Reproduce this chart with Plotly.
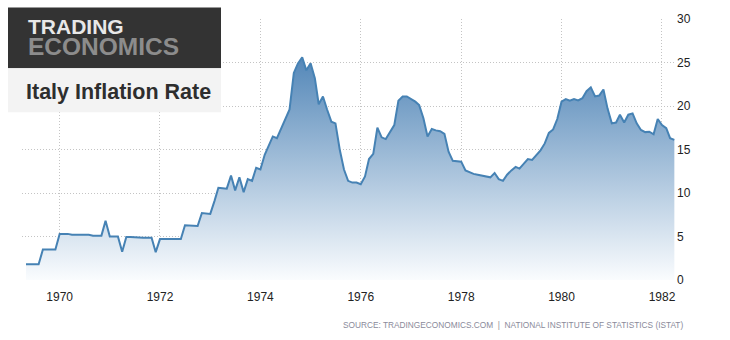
import pandas as pd
import plotly.graph_objects as go

# Italy consumer price inflation, % year on year, monthly from May 1969
start_month = "1969-05-01"
v1969 = [1.8, 1.8, 1.8, 1.8, 3.5, 3.5, 3.5, 3.5]
v1970 = [5.3, 5.3, 5.3, 5.2, 5.2, 5.2, 5.2, 5.2, 5.1, 5.1, 5.1, 6.8]
v1971 = [5.0, 5.0, 5.0, 3.25, 4.95, 4.95, 4.9, 4.9, 4.85, 4.85, 4.85, 3.2]
v1972 = [4.7, 4.7, 4.7, 4.7, 4.7, 4.7, 6.3, 6.25, 6.2, 6.2, 7.7, 7.65]
v1973 = [7.6, 9.1, 10.6, 10.55, 10.5, 12.0, 10.3, 11.8, 10.1, 11.6, 11.4, 12.9]
v1974 = [12.7, 14.4, 15.5, 16.5, 16.3, 17.4, 18.5, 19.6, 23.8, 24.9, 25.6, 24.1]
v1975 = [24.9, 23.2, 20.2, 21.1, 19.6, 18.2, 18.0, 15.0, 12.7, 11.4, 11.2, 11.2]
v1976 = [11.0, 11.9, 13.9, 14.5, 17.5, 16.4, 16.2, 17.0, 17.8, 20.6, 21.1, 21.1]
v1977 = [20.8, 20.5, 20.1, 18.6, 16.5, 17.35, 17.2, 17.1, 16.8, 14.75, 13.7, 13.65]
v1978 = [13.6, 12.6, 12.4, 12.2, 12.1, 12.0, 11.9, 11.8, 12.3, 11.6, 11.4, 12.1]
v1979 = [12.6, 13.0, 12.8, 13.4, 13.9, 13.8, 14.4, 14.9, 15.7, 16.9, 17.3, 18.5]
v1980 = [20.5, 20.8, 20.6, 20.8, 20.65, 20.9, 21.7, 22.15, 21.1, 21.2, 21.9, 19.7]
v1981 = [18.0, 18.1, 19.0, 18.1, 19.0, 19.15, 18.0, 17.25, 17.0, 17.05, 16.75, 18.5]
v1982 = [17.8, 17.45, 16.3, 16.1]

values = (v1969 + v1970 + v1971 + v1972 + v1973 + v1974 + v1975 +
          v1976 + v1977 + v1978 + v1979 + v1980 + v1981 + v1982)
dates = pd.date_range(start_month, periods=len(values), freq="MS")

y_ticks = [0, 5, 10, 15, 20, 25, 30]
x_ticks = ["1970", "1972", "1974", "1976", "1978", "1980", "1982"]

W, H = 730, 340
ML, MR, MT, MB = 22, 54, 19, 60
PW, PH = W - ML - MR, H - MT - MB


def px_x(px):
    return (px - ML) / PW


def px_y(py):
    return (H - MB - py) / PH


fig = go.Figure()
fig.add_trace(go.Scatter(
    x=dates, y=values, mode="lines",
    line=dict(color="#4682b4", width=2),
    fill="tozeroy",
    fillgradient=dict(
        type="vertical", start=0, stop=30,
        colorscale=[[0, "rgb(250,252,254)"], [1, "rgb(55,115,172)"]],
    ),
    hoverinfo="skip",
))

grid = dict(showgrid=True, gridcolor="#c4c4c4", gridwidth=1, griddash="1px,2px",
            zeroline=False, showline=False, ticks="")

fig.update_xaxes(
    type="date", range=["1969-04-02", "1982-04-13"],
    tickvals=[f"{y}-01-01" for y in x_ticks], ticktext=x_ticks,
    tickfont=dict(family="Arial, Liberation Sans", size=12, color="#222"),
    ticklabelstandoff=8,
    **grid,
)
fig.update_yaxes(
    range=[0, 30], side="right", tickvals=y_ticks,
    tickfont=dict(family="Arial, Liberation Sans", size=12, color="#222"),
    **grid,
)

# brand block in the top-left corner
fig.add_shape(type="rect", xref="paper", yref="paper",
              x0=px_x(8), x1=px_x(221), y0=px_y(68.3), y1=px_y(7.5),
              fillcolor="#333333", line_width=0, layer="above")
fig.add_shape(type="rect", xref="paper", yref="paper",
              x0=px_x(8), x1=px_x(221), y0=px_y(112.3), y1=px_y(68.3),
              fillcolor="#f3f3f3", line_width=0, layer="above")

fig.add_annotation(text="<b>TRADING</b>", xref="paper", yref="paper",
                   x=px_x(26), y=px_y(26.8), xanchor="left", yanchor="middle",
                   showarrow=False,
                   font=dict(family="Arial, Liberation Sans", size=21, color="#e8e8e8"))
fig.add_annotation(text="<b>ECONOMICS</b>", xref="paper", yref="paper",
                   x=px_x(26), y=px_y(46.2), xanchor="left", yanchor="middle",
                   showarrow=False,
                   font=dict(family="Arial, Liberation Sans", size=24.5, color="#8c8c8c"))
fig.add_annotation(text="<b>Italy Inflation Rate</b>", xref="paper", yref="paper",
                   x=px_x(24), y=px_y(91.5), xanchor="left", yanchor="middle",
                   showarrow=False,
                   font=dict(family="Arial, Liberation Sans", size=21.5, color="#2e2e2e"))

fig.add_annotation(text="SOURCE: TRADINGECONOMICS.COM  |  NATIONAL INSTITUTE OF STATISTICS (ISTAT)",
                   xref="paper", yref="paper",
                   x=px_x(685), y=px_y(325), xanchor="right", yanchor="middle",
                   showarrow=False,
                   font=dict(family="Arial, Liberation Sans", size=8.3, color="#8a8a9a"))

fig.update_layout(
    width=W, height=H,
    margin=dict(l=ML, r=MR, t=MT, b=MB),
    paper_bgcolor="white", plot_bgcolor="white",
    showlegend=False,
)

fig.write_html("out.html")
